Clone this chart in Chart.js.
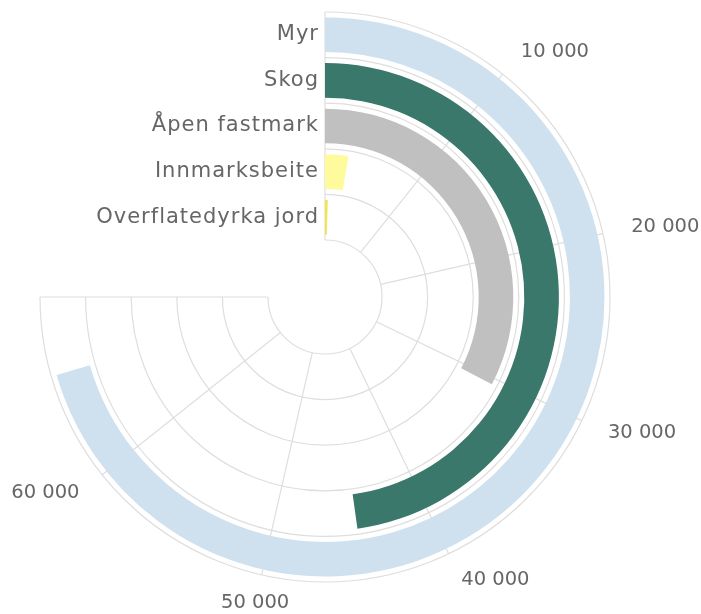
<!DOCTYPE html>
<html>
<head>
<meta charset="utf-8">
<script src="https://cdn.jsdelivr.net/npm/chart.js@4.4.1/dist/chart.umd.min.js"></script>
<style>
  html, body { margin: 0; padding: 0; background: #fff; }
  #wrap { width: 701px; height: 614px; position: relative; }
</style>
</head>
<body>
<div id="wrap"><canvas id="chart"></canvas></div>
<script>
// ===== Data =====
const categories = ['Myr', 'Skog', 'Åpen fastmark', 'Innmarksbeite', 'Overflatedyrka jord'];
const areaValues = [65800, 44600, 30500, 2450, 420];
const barColors = ['#cfe0ee', '#3a786b', '#c0c0c0', '#fffa9c', '#f3e44c'];
const tickValues = [0, 10000, 20000, 30000, 40000, 50000, 60000, 70000];
const tickLabels = ['', '10 000', '20 000', '30 000', '40 000', '50 000', '60 000', ''];
const axisMax = 70000;

const GRID = '#dedede';
const TEXT = '#666666';

// ===== Rings (bars with transparent spacers between them) =====
const datasets = [];
function spacer(w) {
    return { data: [axisMax], backgroundColor: ['rgba(0,0,0,0)'], weight: w, isSpacer: true };
}
datasets.push(spacer(5.5));
categories.forEach((cat, i) => {
    datasets.push({
        label: cat,
        data: [areaValues[i], axisMax - areaValues[i]],
        backgroundColor: [barColors[i], 'rgba(0,0,0,0)'],
        weight: 34.6,
        barIndex: i
    });
    datasets.push(spacer(i === categories.length - 1 ? 5.5 : 11));
});

// angle of a value on the 270 degree value axis, using the doughnut's own geometry
function valueAngle(chart, v) {
    const meta = chart.getDatasetMeta(0);
    const arc = meta.data[0];
    const span = arc.endAngle - arc.startAngle;
    return arc.startAngle + meta.controller.calculateCircumference(v) * span / (2 * Math.PI);
}

// ===== Grid + labels plugin =====
const radialGrid = {
    id: 'radialGrid',
    beforeDatasetsDraw(chart) {
        const ctx = chart.ctx;
        const first = chart.getDatasetMeta(0);
        const last = chart.getDatasetMeta(datasets.length - 1);
        const arc0 = first.data[0];
        const cx = arc0.x, cy = arc0.y;
        const rOut = first.controller.outerRadius;
        const rIn = last.controller.innerRadius;

        ctx.save();
        ctx.strokeStyle = GRID;
        ctx.lineWidth = 1.2;
        // circles at band boundaries
        const radii = [rOut, rIn];
        datasets.forEach((ds, i) => {
            if (ds.isSpacer && i !== 0 && i !== datasets.length - 1) {
                const c = chart.getDatasetMeta(i).controller;
                radii.push((c.outerRadius + c.innerRadius) / 2);
            }
        });
        radii.forEach(r => {
            ctx.beginPath();
            ctx.arc(cx, cy, r, arc0.startAngle, arc0.endAngle);
            ctx.stroke();
        });
        // spokes
        tickValues.forEach(v => {
            const a = valueAngle(chart, v);
            ctx.beginPath();
            ctx.moveTo(cx + rIn * Math.cos(a), cy + rIn * Math.sin(a));
            ctx.lineTo(cx + rOut * Math.cos(a), cy + rOut * Math.sin(a));
            ctx.stroke();
        });
        ctx.restore();
    },
    afterDatasetsDraw(chart) {
        const ctx = chart.ctx;
        const first = chart.getDatasetMeta(0);
        const arc0 = first.data[0];
        const cx = arc0.x, cy = arc0.y;
        const rOut = first.controller.outerRadius;

        ctx.save();
        ctx.fillStyle = TEXT;
        ctx.textBaseline = 'middle';
        // value axis labels
        ctx.font = '19.5px "DejaVu Sans", sans-serif';
        tickValues.forEach((v, i) => {
            if (!tickLabels[i]) return;
            const a = valueAngle(chart, v);
            const x = cx + (rOut + 29) * Math.cos(a);
            const y = cy + (rOut + 29) * Math.sin(a);
            ctx.textAlign = x > cx + 100 ? 'left' : (x < cx - 100 ? 'right' : 'center');
            ctx.fillText(tickLabels[i], x, y);
        });
        // category labels
        ctx.font = '21px "DejaVu Sans", sans-serif';
        ctx.letterSpacing = '1px';
        ctx.textAlign = 'right';
        datasets.forEach((ds, i) => {
            if (ds.isSpacer) return;
            const c = chart.getDatasetMeta(i).controller;
            const mid = (c.outerRadius + c.innerRadius) / 2;
            ctx.fillText(categories[ds.barIndex], cx - 6, cy - mid);
        });
        ctx.restore();
    }
};

const chart = new Chart(document.getElementById('chart'), {
    type: 'doughnut',
    data: { labels: ['verdi', 'rest'], datasets: datasets },
    options: {
        responsive: true,
        maintainAspectRatio: false,
        animation: false,
        events: [],
        rotation: 0,
        circumference: 270,
        cutout: 57,
        borderWidth: 0,
        hoverBorderWidth: 0,
        hoverOffset: 0,
        layout: { padding: { left: 40, right: 91, top: 12, bottom: 32 } },
        plugins: {
            legend: { display: false },
            tooltip: { enabled: false }
        }
    },
    plugins: [radialGrid]
});
</script>
</body>
</html>
